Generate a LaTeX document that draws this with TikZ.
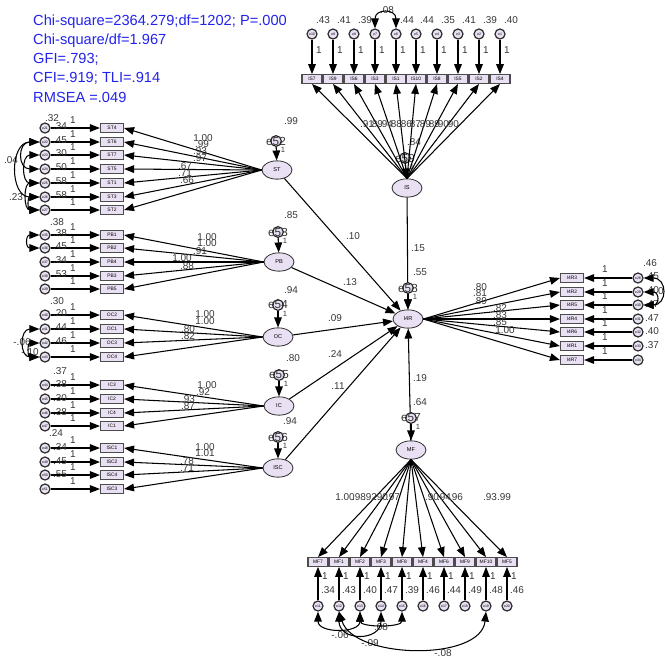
\documentclass[tikz,border=0pt]{standalone}
\usepackage{fontspec}
\setmainfont{Liberation Sans}
\usetikzlibrary{arrows.meta, shapes.geometric}

\definecolor{fitblue}{RGB}{35,35,235}
\definecolor{varfill}{RGB}{233,225,243}
\definecolor{numgray}{RGB}{55,55,55}

\tikzset{
    indices/.style={anchor=west, inner sep=0pt, text=fitblue, font=\fontsize{12.5}{14}\selectfont},
    obs/.style={rectangle, draw=black!70, line width=1pt, fill=varfill, minimum width=0.69cm, minimum height=0.26cm, inner sep=0pt, font=\fontsize{4.2}{4.5}\selectfont},
    obsn/.style={obs, minimum width=0.6cm},
    lat/.style={ellipse, draw=black!80, line width=0.7pt, fill=varfill, minimum width=0.9cm, minimum height=0.55cm, inner sep=0pt, font=\fontsize{4.8}{5}\selectfont},
    err/.style={circle, draw=black!85, line width=1pt, fill=varfill, minimum size=0.3cm, inner sep=0pt, font=\fontsize{3}{3}\selectfont},
    lerr/.style={err, minimum size=0.32cm},
    ename/.style={inner sep=0pt, text=black!80, font=\fontsize{10}{10}\selectfont},
    num/.style={inner sep=0pt, text=numgray, font=\fontsize{8.5}{9}\selectfont},
    one/.style={inner sep=0pt, text=numgray, font=\fontsize{6.5}{7}\selectfont},
    reg/.style={-{Triangle[length=8.5pt, width=6.5pt]}, line width=0.9pt, black},
    cov/.style={{Triangle[length=8.5pt, width=6.5pt]}-{Triangle[length=8.5pt, width=6.5pt]}, line width=0.9pt, black},
}

\begin{document}
\begin{tikzpicture}[x=0.03cm, y=-0.03cm]
    \useasboundingbox (0,0) rectangle (665,658);

    % Fit indices
    \node[indices] (chi) at (33,22) {Chi-square=2364.279;df=1202; P=.000};
    \node[indices] (chidf) at (33,41) {Chi-square/df=1.967};
    \node[indices] (gfi) at (33,59) {GFI=.793;};
    \node[indices] (cfi) at (33,78) {CFI=.919; TLI=.914};
    \node[indices] (rmsea) at (33,97) {RMSEA =.049};

    % Latent variables
    \node[lat] (ST) at (277,170) {ST};
    \node[lat] (PB) at (279,262) {PB};
    \node[lat] (OC) at (278,337) {OC};
    \node[lat] (IC) at (279,406) {IC};
    \node[lat] (ISC) at (278,468) {ISC};
    \node[lat] (IS) at (407,188) {IS};
    \node[lat] (I4R) at (408,319) {I4R};
    \node[lat] (MF) at (411,450) {MF};

    % Structural paths
    \foreach \lv in {ST,PB,OC,IC,ISC,IS,MF}
        \draw[reg] (\lv) -- (I4R);
    \foreach \val/\xx/\yy in {.10/353/236, .13/350/282, .09/335/318, .24/335/354, .11/338/386, .15/418/248, .19/420/378}
        \node[num] at (\xx,\yy) {\val};

    % Errors of latent variables
    \foreach \k/\lv/\xx/\yy in {52/ST/276/141, 53/PB/278/232, 54/OC/278/305, 55/IC/279/375, 56/ISC/278/437, 59/IS/405/158, 58/I4R/408/288, 57/MF/411/418}{
        \node[lerr] (e\k) at (\xx,\yy) {};
        \draw[reg] (e\k) -- (\lv);
        \node[ename] at (e\k) {e\k};
        \node[one] at (\xx+7,\yy+9) {1};
    }
    \foreach \val/\xx/\yy in {.99/291/121, .85/291/215, .94/291/290, .80/293/358, .94/290/421, .84/414/142, .55/420/272, .64/420/402}
        \node[num] at (\xx,\yy) {\val};

    % ST indicators
    \foreach \nm/\yy/\k in {ST4/128/21, ST6/142/22, ST7/155/23, ST5/169/24, ST1/183/25, ST3/197/26, ST2/210/27}{
        \node[obs] (\nm) at (112,\yy) {\nm};
        \node[err] (e\k) at (45,\yy) {e\k};
        \draw[reg] (e\k) -- (\nm);
        \draw[reg] (ST.west) -- (\nm.east);
        \node[num] at (73,\yy-8) {1};
    }
    \foreach \val/\xx/\yy in {.32/52/118, .34/60/126, .45/60/140, .30/60/153, .50/60/167, .58/60/181, .58/60/195}
        \node[num] at (\xx,\yy) {\val};
    \foreach \val/\xx/\yy in {1.00/203/138, .99/202/144, .93/200/151, .97/200/158, .67/185/166, .71/185/173, .66/187/180}
        \node[num] at (\xx,\yy) {\val};
    \node[num] at (11,160) {.04};
    \node[num] at (16,197) {.23};
    \draw[cov] (e22.west) .. controls +(-22,0) and +(-22,0) .. (e24.west);
    \draw[cov] (e23.west) .. controls +(-18,0) and +(-18,0) .. (e25.west);
    \draw[cov] (e22.west) .. controls +(-30,0) and +(-30,0) .. (e26.west);
    \draw[cov] (e25.west) .. controls +(-16,0) and +(-16,0) .. (e27.west);
    \draw[cov] (e26.west) .. controls +(-12,0) and +(-12,0) .. (e27.west);

    % PB indicators
    \foreach \nm/\yy/\k in {PB1/235/35, PB2/248/36, PB4/262/37, PB3/276/38, PB5/289/39}{
        \node[obs] (\nm) at (112,\yy) {\nm};
        \node[err] (e\k) at (45,\yy) {e\k};
        \draw[reg] (e\k) -- (\nm);
        \draw[reg] (PB.west) -- (\nm.east);
        \node[num] at (73,\yy-8) {1};
    }
    \foreach \val/\xx/\yy in {.38/57/222, .38/60/233, .45/60/246, .34/60/260, .53/60/274}
        \node[num] at (\xx,\yy) {\val};
    \foreach \val/\xx/\yy in {1.00/207/237, 1.00/207/243, .91/200/251, 1.00/182/258, .88/187/266}
        \node[num] at (\xx,\yy) {\val};
    \draw[cov] (e35.west) .. controls +(-14,0) and +(-14,0) .. (e36.west);

    % OC indicators
    \foreach \nm/\yy/\k in {OC2/315/40, OC1/329/41, OC3/343/42, OC4/357/43}{
        \node[obs] (\nm) at (112,\yy) {\nm};
        \node[err] (e\k) at (45,\yy) {e\k};
        \draw[reg] (e\k) -- (\nm);
        \draw[reg] (OC.west) -- (\nm.east);
        \node[num] at (73,\yy-8) {1};
    }
    \foreach \val/\xx/\yy in {.30/57/301, .20/60/313, .44/60/327, .46/60/341}
        \node[num] at (\xx,\yy) {\val};
    \foreach \val/\xx/\yy in {1.00/205/314, 1.00/205/321, .80/188/329, .82/188/336}
        \node[num] at (\xx,\yy) {\val};
    \node[num] at (22,342) {-.06};
    \node[num] at (30,352) {-.10};
    \draw[cov] (e41.west) .. controls +(-20,0) and +(-20,0) .. (e43.west);
    \draw[cov] (e42.west) .. controls +(-12,0) and +(-12,0) .. (e43.west);

    % IC indicators
    \foreach \nm/\yy/\k in {IC3/385/44, IC2/399/45, IC4/413/46, IC1/426/47}{
        \node[obs] (\nm) at (112,\yy) {\nm};
        \node[err] (e\k) at (45,\yy) {e\k};
        \draw[reg] (e\k) -- (\nm);
        \draw[reg] (IC.west) -- (\nm.east);
        \node[num] at (73,\yy-8) {1};
    }
    \foreach \val/\xx/\yy in {.37/60/371, .38/60/384, .30/60/398, .38/60/412}
        \node[num] at (\xx,\yy) {\val};
    \foreach \val/\xx/\yy in {1.00/207/385, .92/203/392, .93/188/399, .87/188/406}
        \node[num] at (\xx,\yy) {\val};

    % ISC indicators
    \foreach \nm/\yy/\k in {ISC1/448/48, ISC2/462/49, ISC4/475/50, ISC3/489/51}{
        \node[obs] (\nm) at (112,\yy) {\nm};
        \node[err] (e\k) at (45,\yy) {e\k};
        \draw[reg] (e\k) -- (\nm);
        \draw[reg] (ISC.west) -- (\nm.east);
        \node[num] at (73,\yy-8) {1};
    }
    \foreach \val/\xx/\yy in {.24/56/433, .34/60/447, .45/60/461, .55/60/474}
        \node[num] at (\xx,\yy) {\val};
    \foreach \val/\xx/\yy in {1.00/205/447, 1.01/205/453, .78/187/461, .71/187/468}
        \node[num] at (\xx,\yy) {\val};

    % I4R indicators
    \foreach \nm/\yy/\k in {I4R3/278/28, I4R2/292/29, I4R5/305/30, I4R4/319/31, I4R6/332/32, I4R1/346/33, I4R7/360/34}{
        \node[obs] (\nm) at (572,\yy) {\nm};
        \node[err] (e\k) at (638,\yy) {e\k};
        \draw[reg] (e\k) -- (\nm);
        \draw[reg] (I4R.east) -- (\nm.west);
        \node[num] at (605,\yy-9) {1};
    }
    \foreach \val/\xx/\yy in {.46/650/263, .45/652/276, .40/652/290, .47/652/304, .47/652/318, .40/652/331, .37/652/345}
        \node[num] at (\xx,\yy) {\val};
    \foreach \val/\xx/\yy in {.80/480/287, .81/480/293, .89/480/301, .82/500/308, .83/500/315, .85/500/322, 1.00/505/330}
        \node[num] at (\xx,\yy) {\val};
    \node[num] at (661,291) {0};
    \draw[cov] (e28.east) .. controls +(24,0) and +(24,0) .. (e30.east);
    \draw[cov] (e29.east) .. controls +(16,0) and +(16,0) .. (e30.east);

    % IS indicators
    \foreach \nm/\xx/\k in {IS7/312/10, IS9/333/9, IS6/354/8, IS3/375/7, IS1/396/6, IS10/416/5, IS8/437/4, IS5/458/3, IS2/479/2, IS4/500/1}{
        \node[obsn] (\nm) at (\xx,79) {\nm};
        \node[err] (e\k) at (\xx,34) {e\k};
        \draw[reg] (e\k) -- (\nm);
        \draw[reg] (IS.north) -- (\nm.south);
        \node[num] at (\xx+7,50) {1};
    }
    \foreach \val/\xx in {.43/323, .41/344, .39/365, .44/407, .44/427, .35/448, .41/469, .39/490, .40/511}
        \node[num] at (\xx,20) {\val};
    \foreach \val/\xx in {.91/367, .89/376, .94/386, .88/395, .86/405, .87/414, .89/424, .89/433, .90/442, .90/452}
        \node[num] at (\xx,124) {\val};
    \node[num] at (387,10) {.08};
    \draw[cov] (e7.north) .. controls +(0,-20) and +(0,-20) .. (e6.north);

    % MF indicators
    \foreach \nm/\xx/\k in {MF7/318/11, MF1/339/12, MF2/360/13, MF3/381/14, MF8/402/15, MF4/423/16, MF6/444/17, MF9/465/18, MF10/486/19, MF5/507/20}{
        \node[obsn] (\nm) at (\xx,562) {\nm};
        \node[err] (e\k) at (\xx,606) {e\k};
        \draw[reg] (e\k) -- (\nm);
        \draw[reg] (MF.south) -- (\nm.north);
        \node[num] at (\xx+7,576) {1};
    }
    \foreach \val/\xx in {.34/328, .43/349, .40/370, .47/391, .39/412, .46/433, .44/454, .49/475, .48/496, .46/517}
        \node[num] at (\xx,590) {\val};
    \foreach \val/\xx in {1.00/345, .98/359, .92/370, .90/381, .97/393, .90/432, .94/444, .96/456, .93/490, .99/504}
        \node[num] at (\xx,497) {\val};
    \node[num] at (340,635) {-.06};
    \node[num] at (381,627) {.08};
    \node[num] at (370,643) {-.09};
    \node[num] at (443,653) {-.08};
    \draw[cov] (e11.south) .. controls +(0,22) and +(0,22) .. (e13.south);
    \draw[cov] (e13.south) .. controls +(0,16) and +(0,16) .. (e15.south);
    \draw[cov] (e12.south) .. controls +(0,30) and +(0,30) .. (e14.south);
    \draw[cov] (e12.south) .. controls +(15,48) and +(-5,50) .. (e19.south);
\end{tikzpicture}
\end{document}
